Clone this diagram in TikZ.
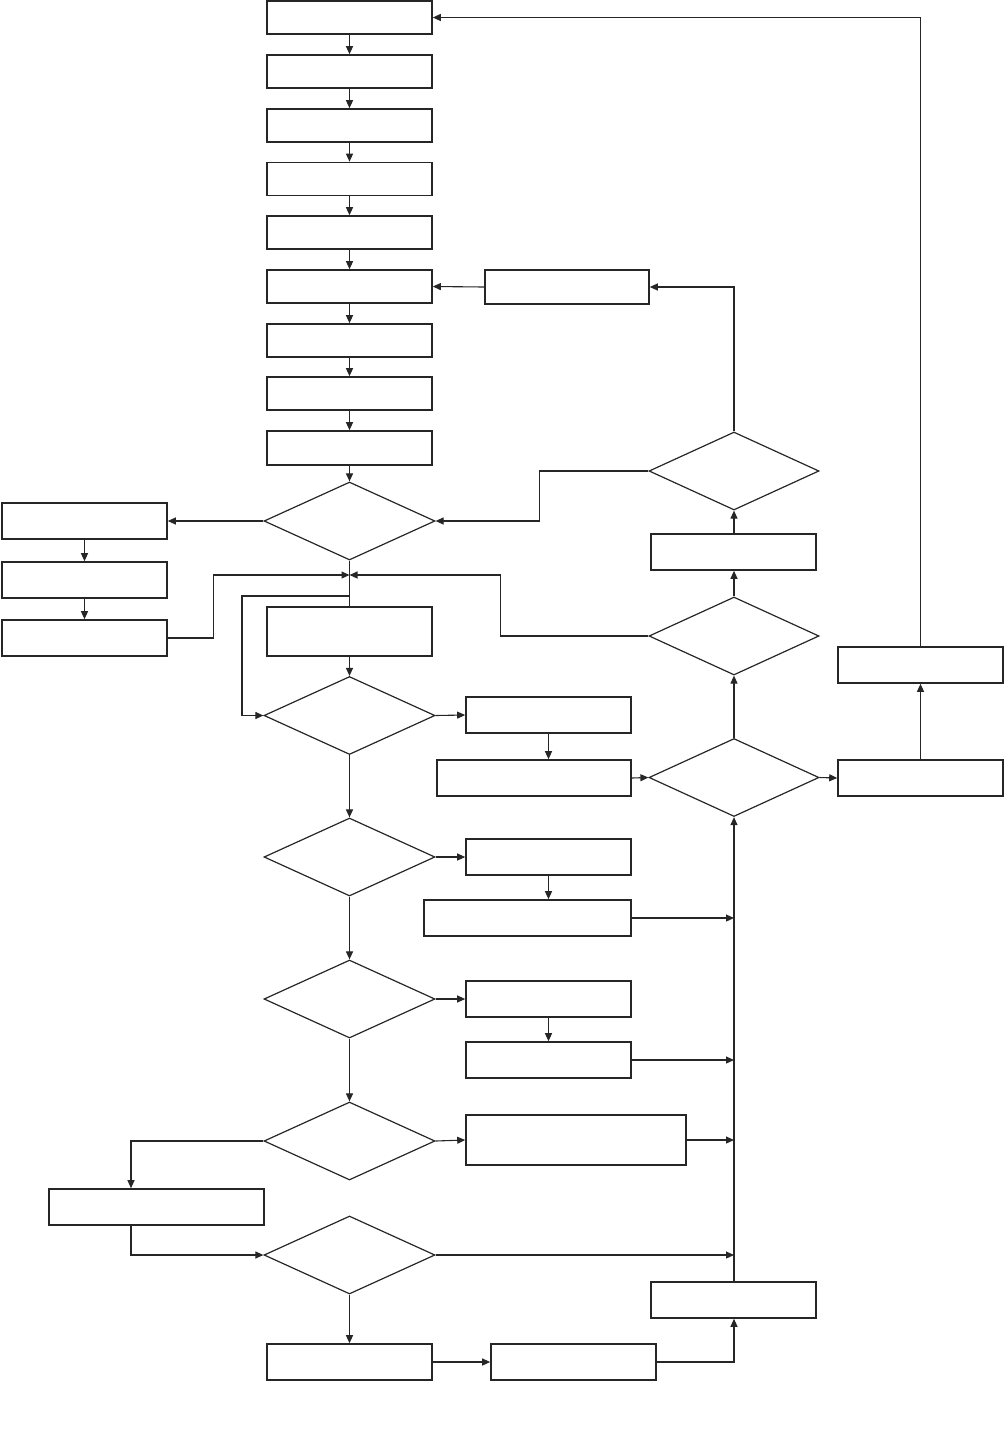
\documentclass[tikz,border=0pt]{standalone}
\usetikzlibrary{shapes.geometric,arrows.meta}
\begin{document}
\begin{tikzpicture}[x=1pt,y=-1pt,
  bx/.style={draw=black!85,line width=1.6pt,rectangle,inner sep=0pt,minimum width=165pt,minimum height=36pt},
  dm/.style={draw=black!85,line width=1.2pt,diamond,inner sep=0pt,minimum width=171pt,minimum height=78pt},
  ln/.style={draw=black!85,line width=1.1pt},
  arr/.style={ln,-{Triangle[length=8pt,width=7pt]}}]
\useasboundingbox (0,0) rectangle (1006,1444);
% main column
\node[bx,minimum height=33pt] (b1) at (349.5,17.5) {};
\node[bx,minimum height=33pt] (b2) at (349.5,71.5) {};
\node[bx,minimum height=33pt] (b3) at (349.5,125.5) {};
\node[bx,minimum height=33pt] (b4) at (349.5,179) {};
\node[bx,minimum height=33pt] (b5) at (349.5,232.5) {};
\node[bx,minimum height=33pt] (b6) at (349.5,286.5) {};
\node[bx,minimum height=33pt] (b7) at (349.5,340.5) {};
\node[bx,minimum height=33pt] (b8) at (349.5,393.5) {};
\node[bx,minimum height=34pt] (b9) at (349.5,448) {};
\node[dm] (d1) at (349.5,521) {};
\node[bx] (l1) at (84.5,521) {};
\node[bx] (l2) at (84.5,580) {};
\node[bx] (l3) at (84.5,638) {};
\node[bx,minimum height=49pt] (b10) at (349.5,631.5) {};
\node[dm] (d2) at (349.5,715.5) {};
\node[bx] (r1) at (548.5,715) {};
\node[bx,minimum width=194pt] (r2) at (534,778) {};
\node[dm,minimum width=170pt] (d4) at (734,777.5) {};
\node[bx] (rb1) at (920.5,778) {};
\node[bx] (rb2) at (920.5,665) {};
\node[dm,minimum width=170pt] (d3) at (734,636) {};
\node[bx] (m1) at (733.5,552) {};
\node[dm,minimum width=170pt] (d5) at (734,471) {};
\node[bx,minimum width=164pt,minimum height=34pt] (t1) at (567,287) {};
\node[dm] (d6) at (349.5,857) {};
\node[bx] (r3) at (548.5,857) {};
\node[bx,minimum width=207pt] (r4) at (527.5,918) {};
\node[dm] (d7) at (349.5,999) {};
\node[bx] (r5) at (548.5,999) {};
\node[bx] (r6) at (548.5,1060) {};
\node[dm] (d8) at (349.5,1141) {};
\node[bx,minimum width=220pt,minimum height=50pt] (r7) at (576,1140) {};
\node[bx,minimum width=215pt] (l4) at (156.5,1207) {};
\node[dm] (d9) at (349.5,1255) {};
\node[bx] (b11) at (349.5,1362) {};
\node[bx] (b12) at (573.5,1362) {};
\node[bx] (br) at (733.5,1300) {};
% coordinates
\coordinate (jn) at (349.5,575);
\coordinate (jl) at (349.5,596);
\coordinate (v1) at (734,918);
\coordinate (v2) at (734,1060);
\coordinate (v3) at (734,1140);
\coordinate (v4) at (734,1255);
% connectors main column
\foreach \a/\b in {b1/b2,b2/b3,b3/b4,b4/b5,b5/b6,b6/b7,b7/b8,b8/b9,b9/d1}
  \draw[arr] (\a.south) -- (\b.north);
\draw[arr] (d1.west) -- (l1.east);
\draw[arr] (l1.south) -- (l2.north);
\draw[arr] (l2.south) -- (l3.north);
\draw[arr] (l3.east) -- ++(46,0) |- (jn);
\draw[arr] (d3.west) -- ++(-148,0) |- (jn);
\draw[ln] (d1.south) -- (b10.north);
\draw[arr] (jl) -- ++(-107.5,0) |- (d2.west);
\draw[arr] (b10.south) -- (d2.north);
\draw[arr] (d2.east) -- (r1.west);
\draw[arr] (r1.south) -- (r1.south |- r2.north);
\draw[arr] (r2.east) -- (d4.west);
\draw[arr] (d4.east) -- (rb1.west);
\draw[arr] (rb1.north) -- (rb2.south);
\draw[arr] (rb2.north) |- (b1.east);
\draw[arr] (d4.north) -- (d3.south);
\draw[arr] (d3.north) -- (m1.south -| d3.north);
\draw[arr] (m1.north -| d5.south) -- (d5.south);
\draw[arr] (d5.west) -- ++(-109,0) |- (d1.east);
\draw[arr] (d5.north) |- (t1.east);
\draw[arr] (t1.west) -- (b6.east);
\draw[arr] (d2.south) -- (d6.north);
\draw[arr] (d6.east) -- (r3.west);
\draw[arr] (r3.south) -- (r3.south |- r4.north);
\draw[arr] (r4.east) -- (v1);
\draw[arr] (d6.south) -- (d7.north);
\draw[arr] (d7.east) -- (r5.west);
\draw[arr] (r5.south) -- (r6.north);
\draw[arr] (r6.east) -- (v2);
\draw[arr] (d7.south) -- (d8.north);
\draw[arr] (d8.east) -- (r7.west);
\draw[arr] (r7.east) -- (v3);
\draw[arr] (d8.west) -| ([xshift=-25.5pt]l4.north);
\draw[arr] ([xshift=-25.5pt]l4.south) |- (d9.west);
\draw[arr] (d9.east) -- (v4);
\draw[arr] (d9.south) -- (b11.north);
\draw[arr] (b11.east) -- (b12.west);
\draw[arr] (b12.east) -| (br.south -| d4.south);
\draw[arr] (br.north -| d4.south) -- (d4.south);
\end{tikzpicture}
\end{document}
